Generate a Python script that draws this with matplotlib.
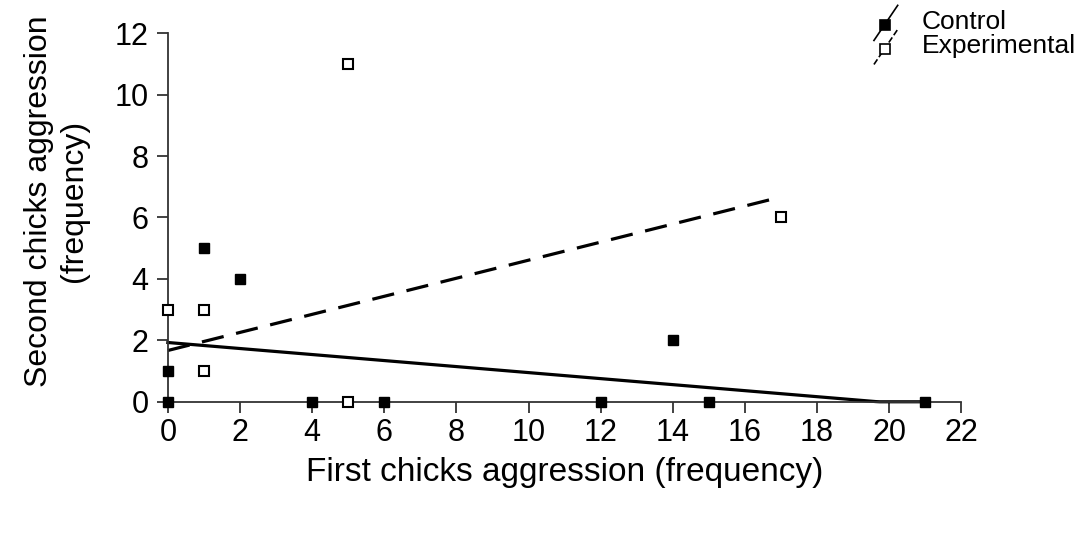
import numpy as np
import matplotlib.pyplot as plt
from matplotlib.lines import Line2D
from matplotlib.legend_handler import HandlerBase

plt.rcParams['font.family'] = ['Liberation Sans', 'DejaVu Sans']

# Agresión del primer y segundo pollo, por grupo
control_first = [0, 0, 1, 2, 4, 6, 12, 14, 15, 21]
control_second = [0, 1, 5, 4, 0, 0, 0, 2, 0, 0]
exp_first = [0, 1, 1, 5, 5, 17]
exp_second = [3, 3, 1, 11, 0, 6]

# Rectas de tendencia (extremos en x, ordenada en el origen y pendiente)
control_trend_x = [0, 21]
control_trend = (1.93, -0.098)
exp_trend_x = [0, 17]
exp_trend = (1.67, 0.294)

xticks = list(range(0, 23, 2))
yticks = list(range(0, 13, 2))


class DiagonalHandler(HandlerBase):
    # Muestra de leyenda: línea diagonal con el marcador encima
    def create_artists(self, legend, orig_handle, xdescent, ydescent,
                       width, height, fontsize, trans):
        x0, x1 = -xdescent, -xdescent + width
        y0, y1 = -ydescent - 0.6 * height, -ydescent + 1.3 * height
        ln = Line2D([x0, x1], [y0, y1], color='black', lw=1.2,
                    linestyle=orig_handle.get_linestyle())
        mk = Line2D([x0 + 0.45 * width], [y0 + 0.45 * (y1 - y0)], marker='s',
                    markersize=6.5, markerfacecolor=orig_handle.get_markerfacecolor(),
                    markeredgecolor='black', markeredgewidth=1.2, linestyle='none')
        ln.set_transform(trans)
        mk.set_transform(trans)
        return [ln, mk]


fig = plt.figure(figsize=(10.9, 5.35), dpi=100)
ax = fig.add_axes([0.154, 0.249, 0.728, 0.689])

# Rectas de tendencia
xs = np.linspace(control_trend_x[0], control_trend_x[1], 200)
ys = np.maximum(control_trend[0] + control_trend[1] * xs, 0)
ax.plot(xs, ys, color='black', lw=2.3, clip_on=False, zorder=2)
xe = np.array(exp_trend_x)
ax.plot(xe, exp_trend[0] + exp_trend[1] * xe, color='black', lw=2.3,
        dashes=(7, 4), clip_on=False, zorder=2)

# Puntos
ax.plot(control_first, control_second, 's', color='black', markersize=7.5,
        clip_on=False, zorder=3)
ax.plot(exp_first, exp_second, 's', markerfacecolor='white',
        markeredgecolor='black', markeredgewidth=1.5, markersize=7,
        clip_on=False, zorder=3)

ax.set_xlim(0, 22)
ax.set_ylim(0, 12)
ax.set_xticks(xticks)
ax.set_yticks(yticks)
ax.spines['top'].set_visible(False)
ax.spines['right'].set_visible(False)
for s in ('left', 'bottom'):
    ax.spines[s].set_color('#333333')
    ax.spines[s].set_linewidth(1.3)
ax.tick_params(axis='both', direction='out', length=8, width=1.3,
               color='#333333', labelsize=22)
ax.tick_params(axis='x', pad=4)
ax.tick_params(axis='y', pad=6)

ax.set_xlabel('First chicks aggression (frequency)', fontsize=24, labelpad=6)
ax.set_ylabel('Second chicks aggression\n(frequency)', fontsize=23,
              linespacing=1.2)
ax.yaxis.set_label_coords(-0.1, 0.545)

handles = [Line2D([], [], color='black', marker='s', markerfacecolor='black',
                  linestyle='-'),
           Line2D([], [], color='black', marker='s', markerfacecolor='white',
                  linestyle=(0, (3, 2)))]
fig.legend(handles, ['Control', 'Experimental'], loc='upper left',
           bbox_to_anchor=(0.78, 1.025), frameon=False, fontsize=19,
           handlelength=0.9, handletextpad=0.9, labelspacing=0.0,
           handler_map={Line2D: DiagonalHandler()})

fig.savefig('out.png', dpi=100)
